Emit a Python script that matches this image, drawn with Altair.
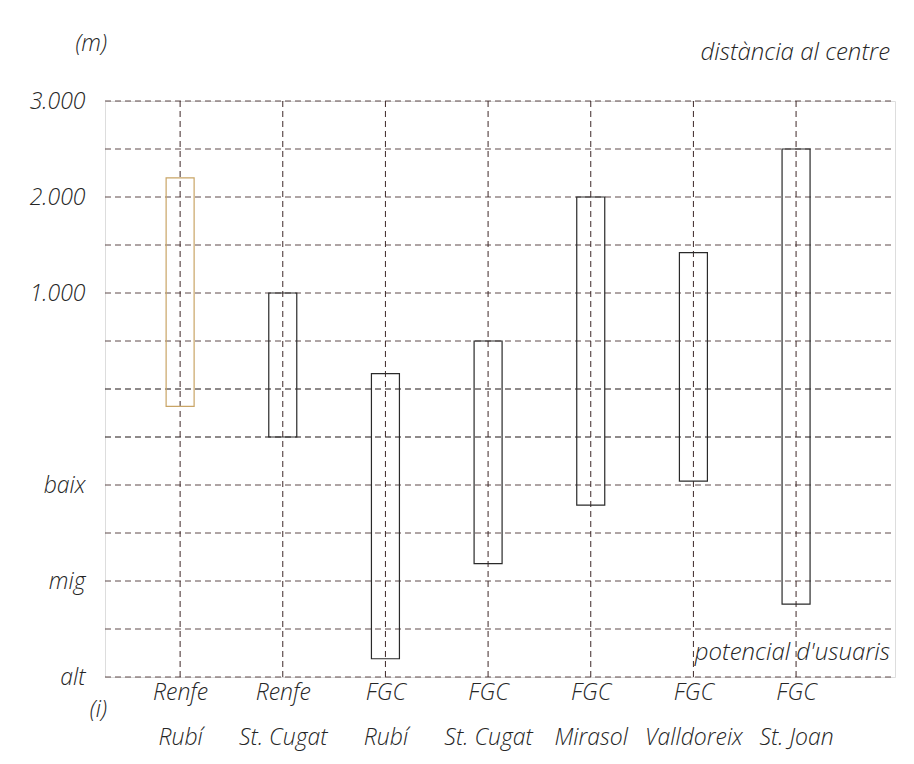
import json
import altair as alt
import pandas as pd

# ---- data ----
stations = ["Renfe|Rubí", "Renfe|St. Cugat", "FGC|Rubí", "FGC|St. Cugat",
            "FGC|Mirasol", "FGC|Valldoreix", "FGC|St. Joan"]
top_m = [2200, 1000, 160, 500, 2000, 1420, 2500]
bottom_m = [-180, -500, -2810, -1820, -1210, -960, -2240]
box_colors = ["#c9a566", "#2a2a2a", "#2a2a2a", "#2a2a2a", "#2a2a2a", "#2a2a2a", "#2a2a2a"]

grid_values = [3000, 2500, 2000, 1500, 1000, 500, 0, -500, -1000, -1500, -2000, -2500, -3000]
grid_colors = ["#5e4a4a"] * 6 + ["#1e1414", "#1e1414"] + ["#5e4a4a"] * 5

y_tick_values = [3000, 2000, 1000, -1000, -2000, -3000]
y_tick_labels = ["3.000", "2.000", "1.000", "baix", "mig", "alt"]

W, H = 790, 576
FONT = "Open Sans"
FS = 23
TXT = "#262626"

idx = list(range(len(stations)))
boxes = pd.DataFrame({"i": idx, "top": top_m, "bottom": bottom_m, "c": box_colors,
                      "ymax": max(grid_values), "ymin": min(grid_values)})
grid = pd.DataFrame({"v": grid_values, "c": grid_colors})

xscale = alt.Scale(domain=[-0.683, 6.915], nice=False, zero=False)
yscale = alt.Scale(domain=[min(grid_values), max(grid_values)], nice=False)

x_label_expr = "split(" + json.dumps(stations, ensure_ascii=False) + "[datum.value], '|')"
y_label_expr = ("{" + ",".join(f"'{v}': '{l}'" for v, l in zip(y_tick_values, y_tick_labels))
                + "}[datum.value]")

hgrid = alt.Chart(grid).mark_rule(strokeDash=[6, 4], strokeWidth=1).encode(
    y=alt.Y("v:Q", scale=yscale,
            axis=alt.Axis(values=y_tick_values, labelExpr=y_label_expr, title=None,
                          domain=False, ticks=False, grid=False, labelPadding=20,
                          labelFont=FONT, labelFontSize=FS, labelFontStyle="italic",
                          labelFontWeight=300, labelColor=TXT)),
    x=alt.value(0), x2=alt.value(W),
    color=alt.Color("c:N", scale=None),
)

vlines = alt.Chart(boxes).mark_rule(strokeDash=[6, 4], strokeWidth=1, color="#3e2828").encode(
    x=alt.X("i:Q", scale=xscale,
            axis=alt.Axis(values=idx, labelExpr=x_label_expr, title=None,
                          domain=False, ticks=False, grid=False, labelPadding=4,
                          labelLineHeight=45, labelFont=FONT, labelFontSize=FS,
                          labelFontStyle="italic", labelFontWeight=300, labelColor=TXT,
                          labelBaseline="top")),
    y=alt.Y("ymax:Q", scale=yscale), y2="ymin:Q",
)

rects = alt.Chart(boxes).mark_bar(size=28, fillOpacity=0, strokeWidth=1.2).encode(
    x=alt.X("i:Q", scale=xscale),
    y=alt.Y("top:Q", scale=yscale), y2="bottom:Q",
    stroke=alt.Color("c:N", scale=None),
)

def note(text, x, y, align, fs=FS):
    return alt.Chart(pd.DataFrame({"t": [text]})).mark_text(
        font=FONT, fontSize=fs, fontStyle="italic", fontWeight=300, color=TXT,
        align=align, baseline="middle").encode(text="t:N", x=alt.value(x), y=alt.value(y))

notes = (note("(m)", 2, -57, "right") + note("distància al centre", 785, -48, "right", 24)
         + note("potencial d'usuaris", 785, 552, "right", 24) + note("(i)", 2, 609, "right"))

chart = alt.layer(hgrid, vlines, rects, notes).properties(
    width=W, height=H,
    autosize=alt.AutoSizeParams(type="none"),
    padding={"left": 97, "top": 93, "right": 10, "bottom": 86},
).configure_view(stroke=None).configure(background="white")

chart.save("out.html", embed_options={"renderer": "svg", "actions": False})
